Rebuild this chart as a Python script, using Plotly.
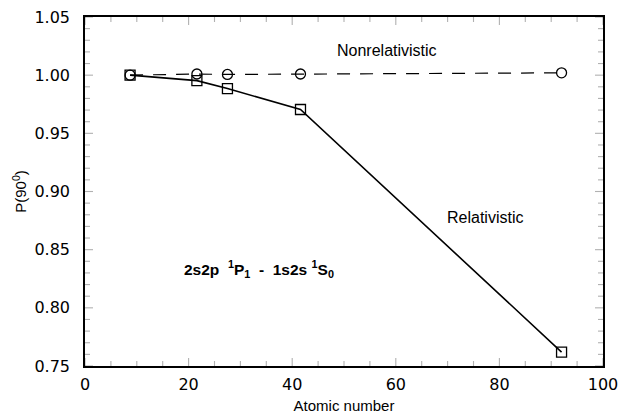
import plotly.graph_objects as go

atomic_number = [8.7, 21.6, 27.5, 41.6, 92.0]
relativistic = [1.000, 0.9953, 0.9885, 0.9705, 0.762]
nonrelativistic = [1.000, 1.001, 1.0006, 1.001, 1.002]

X_RANGE = [0, 100]
Y_RANGE = [0.75, 1.05]
x_major = [0, 20, 40, 60, 80, 100]
x_minor = [v for v in range(0, 101, 5) if v % 20 != 0]
y_major = [0.75, 0.80, 0.85, 0.90, 0.95, 1.00, 1.05]
y_minor = [round(0.75 + 0.01 * i, 2) for i in range(31) if i % 5 != 0]

FONT = "Liberation Sans, Arial, Helvetica, sans-serif"
TICKFONT = "DejaVu Sans, sans-serif"

fig = go.Figure()
fig.add_trace(go.Scatter(
    x=atomic_number, y=nonrelativistic, mode="lines+markers",
    line=dict(color="black", width=1.2, dash="13px,10px"),
    marker=dict(symbol="circle-open", size=10, color="black", line=dict(width=1.3)),
    showlegend=False))
fig.add_trace(go.Scatter(
    x=atomic_number, y=relativistic, mode="lines+markers",
    line=dict(color="black", width=1.6),
    marker=dict(symbol="square-open", size=10, color="black", line=dict(width=1.3)),
    showlegend=False))

fig.add_annotation(x=58.3, y=1.021, text="Nonrelativistic", showarrow=False,
                   font=dict(family=FONT, size=16, color="black"))
fig.add_annotation(x=77.2, y=0.878, text="Relativistic", showarrow=False,
                   font=dict(family=FONT, size=16, color="black"))
fig.add_annotation(x=33.6, y=0.833,
                   text="<b>2s2p  <sup>1</sup>P<sub>1</sub>  -  1s2s <sup>1</sup>S<sub>0</sub></b>",
                   showarrow=False, font=dict(family=FONT, size=15.5, color="black"))

# tick marks drawn inside on all four sides
tick_line = dict(color="black", width=1.1)
for v, L in [(v, 8) for v in x_major] + [(v, 5) for v in x_minor]:
    fig.add_shape(type="line", xref="x", yref="paper", ysizemode="pixel",
                  yanchor=0, x0=v, x1=v, y0=0, y1=L, line=tick_line)
    fig.add_shape(type="line", xref="x", yref="paper", ysizemode="pixel",
                  yanchor=1, x0=v, x1=v, y0=0, y1=-L, line=tick_line)
for v, L in [(v, 8) for v in y_major] + [(v, 5) for v in y_minor]:
    fig.add_shape(type="line", xref="paper", yref="y", xsizemode="pixel",
                  xanchor=0, y0=v, y1=v, x0=0, x1=L, line=tick_line)
    fig.add_shape(type="line", xref="paper", yref="y", xsizemode="pixel",
                  xanchor=1, y0=v, y1=v, x0=0, x1=-L, line=tick_line)

axis_common = dict(
    showline=True, linecolor="black", linewidth=1.5, mirror=True,
    ticks="", showgrid=False, zeroline=False,
    tickfont=dict(family=TICKFONT, size=16, color="black"),
)

fig.update_xaxes(range=X_RANGE, tickvals=x_major, ticklabelstandoff=3,
                 title=dict(text="Atomic number", font=dict(family=FONT, size=15, color="black"), standoff=12),
                 **axis_common)
fig.update_yaxes(range=Y_RANGE, tickvals=y_major, tickformat=".2f", ticklabelstandoff=10,
                 title=dict(text="P(90<sup>0</sup>)", font=dict(family=FONT, size=15, color="black"), standoff=4),
                 **axis_common)

fig.update_layout(
    template="simple_white",
    width=623, height=414,
    margin=dict(l=85, r=20, t=17, b=48, autoexpand=False),
    plot_bgcolor="white", paper_bgcolor="white",
)

fig.write_html("out.html")
